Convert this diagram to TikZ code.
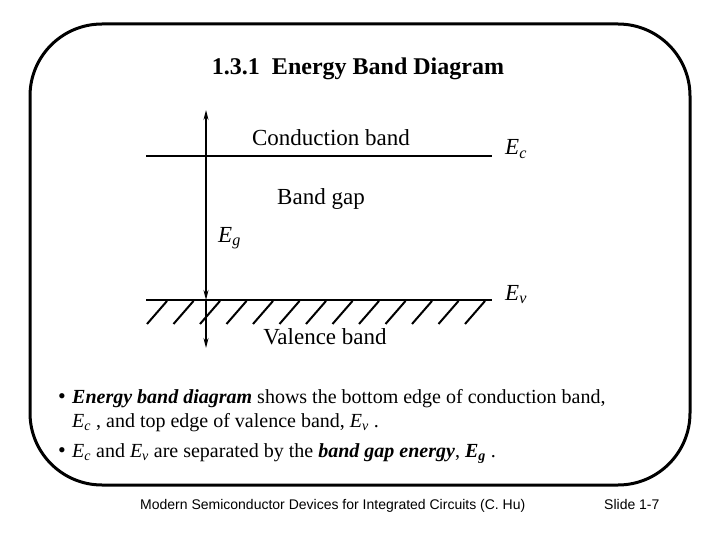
\documentclass[tikz,border=0pt]{standalone}
\usepackage{fontspec}
\setmainfont{Liberation Serif}
\setsansfont{Liberation Sans}
\usetikzlibrary{arrows.meta}

\newcommand{\Esub}[1]{\textit{E}\textsubscript{\textit{#1}}}

\begin{document}
\begin{tikzpicture} [
    x=1pt, y=-1pt,
    label/.style    = { inner sep=0pt, font=\fontsize{23}{26}\selectfont },
    bullet/.style   = { inner sep=0pt, anchor=base west, font=\fontsize{20}{24}\selectfont },
    dot/.style      = { inner sep=0pt, anchor=base west, font=\fontsize{22}{24}\selectfont },
    band/.style     = { draw, line width=2.2pt },
    hatch/.style    = { draw, line width=2pt },
    axis/.style     = { draw, line width=1.3pt, -{Stealth[length=10pt,width=5pt]} },
  ]
  \useasboundingbox (0,0) rectangle (720,540);

  % frame
  \draw [line width=3pt, rounded corners=72pt] (30,24) rectangle (690,485);

  % Define nodes
  \node[inner sep=0pt, anchor=base, font=\fontsize{24}{28}\selectfont\bfseries]
       (title) at (358,75) {1.3.1\ \ Energy Band Diagram};

  \coordinate (cL) at (146,156);
  \coordinate (cR) at (492,156);
  \coordinate (vL) at (146,300);
  \coordinate (vR) at (492,300);
  \coordinate (top) at (206,110);
  \coordinate (ec)  at (206,156);
  \coordinate (ev)  at (206,300);
  \coordinate (bot) at (206,348);

  \node[label, anchor=base] (cband) at (331,146) {Conduction band};
  \node[label, anchor=base west] (Ec) at (505,155) {\Esub{c}};
  \node[label, anchor=base] (gap) at (321,205) {Band gap};
  \node[label, anchor=base west] (Eg) at (218,242) {\Esub{g}};
  \node[label, anchor=base west] (Ev) at (505,300) {\Esub{v}};
  \node[label, anchor=base] (vband) at (325,344) {Valence band};

  \node[dot] (d1) at (58,403) {\textbullet};
  \node[bullet] (b1) at (72,403) {\textbf{\textit{Energy band diagram}} shows the bottom edge of conduction band,};
  \node[bullet] (b1b) at (72,427) {\Esub{c} , and top edge of valence band, \Esub{v} .};
  \node[dot] (d2) at (58,457) {\textbullet};
  \node[bullet] (b2) at (72,457) {\Esub{c} and \Esub{v} are separated by the \textbf{\textit{band gap energy}}, \textbf{\Esub{g}} .};

  \node[inner sep=0pt, anchor=base west, font=\sffamily\fontsize{14}{16}\selectfont]
       (foot) at (140,509) {Modern Semiconductor Devices for Integrated Circuits (C. Hu)};
  \node[inner sep=0pt, anchor=base west, font=\sffamily\fontsize{14}{16}\selectfont]
       (slide) at (604,509) {Slide 1-7};

  % connect the nodes
  \path [band] (cL) -- (cR);
  \path [band] (vL) -- (vR);
  \foreach \i in {0,...,12}
    \path [hatch] (167+\i*26.5,301) -- ++(-20,23);
  \path [axis] (ec) -- (top);
  \path [axis, {Stealth[length=10pt,width=5pt]}-] (ev) -- (ec);
  \path [axis] (ev) -- (bot);
\end{tikzpicture}
\end{document}
